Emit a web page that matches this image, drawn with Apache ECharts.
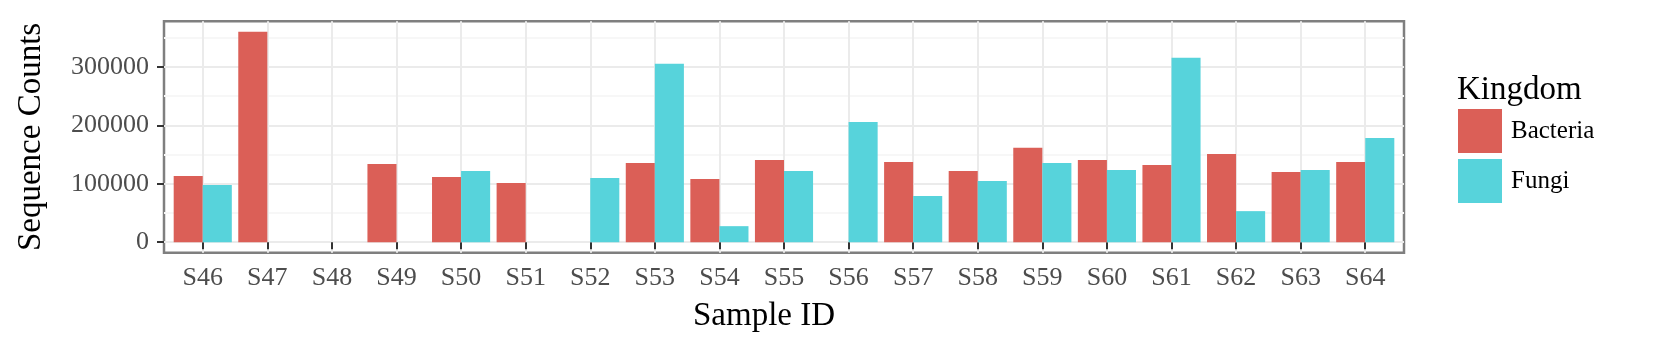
<!DOCTYPE html>
<html>
<head>
<meta charset="utf-8">
<style>
  html, body { margin: 0; padding: 0; background: #fff; }
  #chart { width: 1653px; height: 351px; }
</style>
<script src="https://cdn.jsdelivr.net/npm/echarts@6/dist/echarts.min.js"></script>
</head>
<body>
<div id="chart"></div>
<script>
  // sample ids and counts per kingdom (null = no bar)
  var samples = ['S46', 'S47', 'S48', 'S49', 'S50', 'S51', 'S52', 'S53', 'S54', 'S55',
    'S56', 'S57', 'S58', 'S59', 'S60', 'S61', 'S62', 'S63', 'S64'];
  var bacteria = [113000, 360000, null, 133700, 111400, 101100, null, 135400, 108000, 140600,
    null, 137100, 121700, 161700, 140600, 132000, 150900, 120000, 137100];
  var fungi = [97700, null, null, null, 121700, null, 109700, 305100, 27400, 121700,
    205700, 78900, 104600, 135400, 123400, 315400, 53100, 123400, 178300];
  var yTicks = [0, 100000, 200000, 300000];
  var yMinor = [50000, 150000, 250000, 350000];

  var FONT = 'Liberation Serif';
  var chart = echarts.init(document.getElementById('chart'));

  function toPairs(arr) {
    var out = [];
    arr.forEach(function (v, i) {
      if (v !== null) out.push([i, v]);
    });
    return out;
  }

  var xIdx = samples.map(function (s, i) { return i; });

  var option = {
    animation: false,
    backgroundColor: '#fff',
    title: {
      text: 'Kingdom',
      left: 1457,
      top: 74,
      padding: 0,
      textStyle: { fontFamily: FONT, fontSize: 33, fontWeight: 'normal', color: '#000' }
    },
    legend: {
      orient: 'vertical',
      left: 1458,
      top: 109,
      padding: 0,
      itemWidth: 44,
      itemHeight: 44,
      itemGap: 6,
      icon: 'rect',
      textStyle: { fontFamily: FONT, fontSize: 25, color: '#000', padding: [0, 0, 0, 4] },
      data: ['Bacteria', 'Fungi']
    },
    grid: {
      left: 164,
      right: 249,
      top: 21.2,
      bottom: 98.3,
      show: true,
      borderColor: '#7f7f7f',
      borderWidth: 2.5,
      outerBoundsMode: 'none'
    },
    xAxis: {
      type: 'value',
      min: -0.6,
      max: 18.6,
      name: 'Sample ID',
      nameLocation: 'middle',
      nameGap: 47,
      nameTextStyle: { fontFamily: FONT, fontSize: 33, color: '#000', padding: [0, 40, 0, 0] },
      axisLine: { show: false },
      axisTick: { show: true, length: 7, lineStyle: { color: '#333', width: 2 }, customValues: xIdx },
      axisLabel: {
        customValues: xIdx,
        margin: 12,
        fontFamily: FONT,
        fontSize: 26,
        color: '#4d4d4d',
        formatter: function (v) { return samples[Math.round(v)]; }
      },
      splitLine: { show: true, lineStyle: { color: '#ebebeb', width: 2 } }
    },
    yAxis: [
      {
        type: 'value',
        position: 'left',
        min: -18000,
        max: 378000,
        axisLine: { show: false },
        axisTick: { show: false, customValues: yMinor },
        axisLabel: { show: false, customValues: yMinor },
        splitLine: { show: true, lineStyle: { color: '#f7f7f7', width: 2 } }
      },
      {
        type: 'value',
        position: 'left',
        min: -18000,
        max: 378000,
        name: 'Sequence Counts',
        nameLocation: 'middle',
        nameGap: 116,
        nameTextStyle: { fontFamily: FONT, fontSize: 33, color: '#000' },
        axisLine: { show: false },
        axisTick: { show: true, length: 7, lineStyle: { color: '#333', width: 2 }, customValues: yTicks },
        axisLabel: {
          customValues: yTicks,
          margin: 15,
          fontFamily: FONT,
          fontSize: 26,
          color: '#4d4d4d',
          formatter: function (v) { return String(v); }
        },
        splitLine: { show: true, lineStyle: { color: '#ebebeb', width: 2 } }
      }
    ],
    series: [
      {
        name: 'Bacteria',
        type: 'bar',
        yAxisIndex: 1,
        data: toPairs(bacteria),
        barCategoryGap: '10%',
        barGap: '0%',
        itemStyle: { color: '#db5f57' },
        z: 5
      },
      {
        name: 'Fungi',
        type: 'bar',
        yAxisIndex: 1,
        data: toPairs(fungi),
        barCategoryGap: '10%',
        barGap: '0%',
        itemStyle: { color: '#57d3db' },
        z: 5
      }
    ]
  };

  chart.setOption(option);
</script>
</body>
</html>
